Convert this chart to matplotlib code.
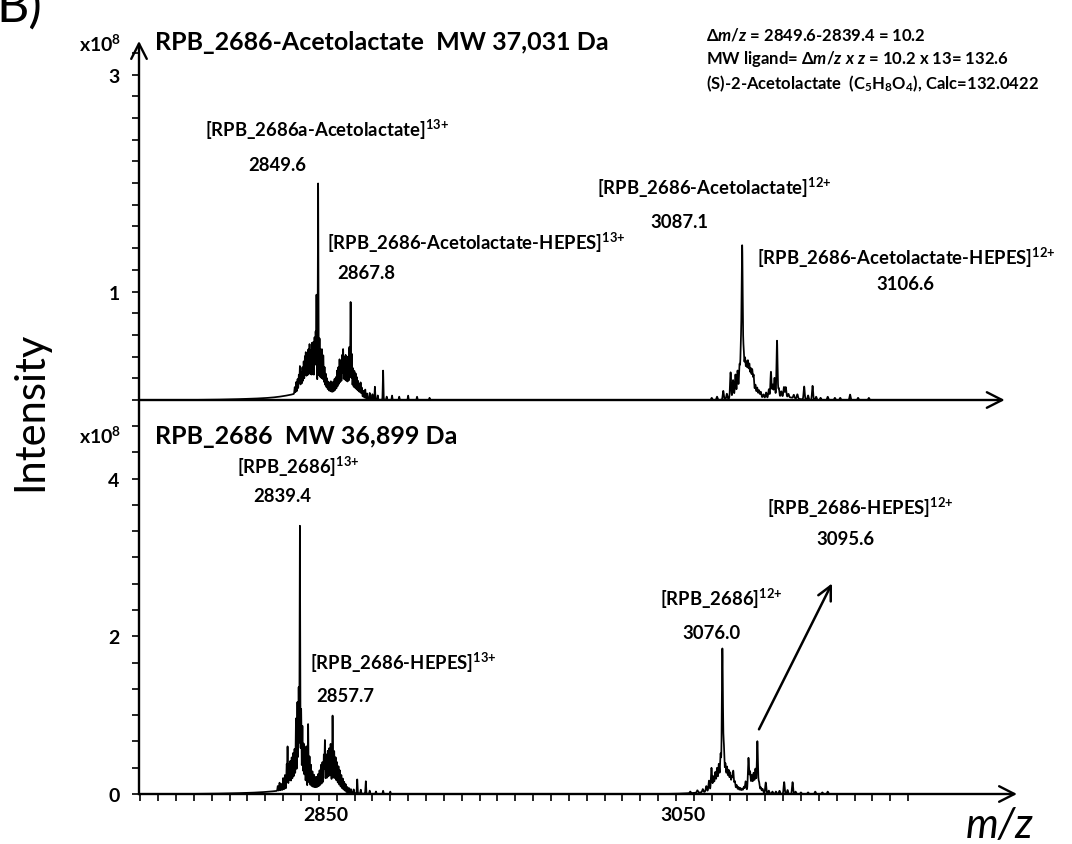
import numpy as np
import matplotlib
matplotlib.use("Agg")
import matplotlib.pyplot as plt
from matplotlib.ticker import FixedLocator, NullFormatter
from matplotlib.transforms import ScaledTranslation

plt.rcParams['font.family'] = ['Lato', 'DejaVu Sans']
plt.rcParams['font.weight'] = 'bold'
plt.rcParams['mathtext.fontset'] = 'custom'
plt.rcParams['mathtext.rm'] = 'Lato:bold'
plt.rcParams['mathtext.it'] = 'Lato:bold:italic'
plt.rcParams['mathtext.bf'] = 'Lato:bold'
plt.rcParams['mathtext.default'] = 'rm'

# ======================= spectra (intensity in units of 1e8) =======================
# Upper spectrum: RPB_2686 with acetolactate
# broad underlying envelopes: centre, height, width
top_base_mz = [2835.0, 2845.0, 2844.0, 2852.0, 2864.0, 2871.0, 3090.0, 3110.0, 3088.0]
top_base_int = [0.02, 0.05, 0.10, 0.06, 0.10, 0.05, 0.05, 0.03, 0.05]
top_base_wid = [22.0, 10.0, 3.0, 2.5, 3.0, 3.0, 6.0, 6.0, 2.5]
# 13+ charge-state cluster (dense, unresolved lines)
top_13_mz = [2836.5, 2837.3, 2838.1, 2838.8, 2839.4, 2840.1, 2840.8, 2841.5, 2842.2, 2842.7,
             2843.4, 2844.1, 2844.8, 2845.5, 2846.2, 2846.9, 2847.6, 2848.2, 2848.7, 2849.6,
             2850.4, 2851.1, 2851.8, 2852.5, 2853.2, 2853.9, 2854.6, 2855.3, 2856.0, 2856.7,
             2857.4, 2858.1, 2858.8, 2859.5, 2860.2, 2860.9, 2861.6, 2862.3, 2863.0, 2863.6,
             2864.3, 2865.0, 2865.7, 2866.4, 2867.1, 2867.8, 2868.5, 2869.2, 2869.9, 2870.6,
             2871.3, 2872.0, 2872.7, 2873.4, 2874.1, 2875.0, 2876.0, 2877.0, 2878.5, 2880.0,
             2881.4, 2883.0, 2886.0, 2888.0, 2891.0, 2895.0, 2900.0, 2905.0, 2912.0]
top_13_int = [0.06, 0.10, 0.12, 0.15, 0.22, 0.15, 0.18, 0.22, 0.25, 0.28,
              0.22, 0.30, 0.35, 0.30, 0.38, 0.40, 0.45, 0.50, 0.85, 1.88,
              0.45, 0.35, 0.35, 0.30, 0.20, 0.15, 0.12, 0.10, 0.10, 0.12,
              0.10, 0.12, 0.14, 0.15, 0.20, 0.22, 0.28, 0.25, 0.30, 0.35,
              0.28, 0.30, 0.25, 0.30, 0.40, 0.82, 0.35, 0.22, 0.20, 0.18,
              0.15, 0.12, 0.10, 0.12, 0.08, 0.06, 0.08, 0.05, 0.06, 0.05,
              0.12, 0.04, 0.27, 0.03, 0.04, 0.03, 0.04, 0.03, 0.02]
# 12+ charge-state cluster (better resolved)
top_12_mz = [3070.0, 3073.0, 3076.5, 3078.5, 3080.6, 3082.0, 3083.3, 3084.5, 3085.6, 3086.4,
             3087.1, 3087.9, 3088.7, 3089.5, 3090.3, 3091.1, 3091.9, 3092.7, 3093.5, 3094.5,
             3095.5, 3096.5, 3097.5, 3099.0, 3100.5, 3102.0, 3103.2, 3104.2, 3105.2, 3106.6,
             3107.6, 3109.0, 3110.5, 3111.5, 3113.0, 3116.0, 3118.0, 3121.8, 3124.0, 3126.5,
             3128.5, 3131.0, 3135.0, 3139.0, 3142.0, 3147.5, 3152.0, 3158.0]
top_12_int = [0.02, 0.03, 0.08, 0.05, 0.24, 0.16, 0.20, 0.22, 0.25, 0.40,
              1.30, 0.35, 0.28, 0.25, 0.27, 0.25, 0.22, 0.22, 0.18, 0.10,
              0.08, 0.06, 0.05, 0.03, 0.05, 0.08, 0.24, 0.12, 0.18, 0.52,
              0.08, 0.05, 0.09, 0.09, 0.03, 0.03, 0.04, 0.12, 0.04, 0.13,
              0.03, 0.02, 0.03, 0.02, 0.02, 0.05, 0.02, 0.02]

# Lower spectrum: apo RPB_2686
bot_base_mz = [2830.0, 2843.0, 2838.0, 2857.0, 3076.0, 3093.0, 3075.0]
bot_base_int = [0.02, 0.05, 0.15, 0.15, 0.08, 0.06, 0.03]
bot_base_wid = [22.0, 12.0, 3.0, 3.5, 4.0, 3.0, 12.0]
bot_13_mz = [2827.0, 2828.0, 2829.0, 2830.0, 2831.0, 2832.0, 2832.5, 2833.3, 2834.0, 2834.8,
             2835.6, 2836.4, 2837.2, 2838.0, 2838.7, 2839.4, 2840.1, 2840.8, 2841.5, 2842.2,
             2843.0, 2844.0, 2844.8, 2845.6, 2846.4, 2847.2, 2848.0, 2848.8, 2849.6, 2850.4,
             2851.2, 2852.0, 2852.8, 2853.4, 2854.2, 2855.0, 2855.8, 2856.6, 2857.7, 2858.6,
             2859.4, 2860.2, 2861.0, 2861.8, 2862.6, 2863.4, 2864.2, 2865.0, 2866.0, 2867.0,
             2868.0, 2869.5, 2871.5, 2873.5, 2876.3, 2878.5, 2882.0, 2886.0, 2890.0]
bot_13_int = [0.06, 0.10, 0.08, 0.15, 0.18, 0.30, 0.52, 0.28, 0.30, 0.32,
              0.35, 0.38, 0.75, 0.95, 1.15, 3.20, 0.90, 0.70, 0.50, 0.45,
              0.50, 0.80, 0.40, 0.30, 0.22, 0.18, 0.15, 0.15, 0.18, 0.22,
              0.28, 0.30, 0.38, 0.55, 0.35, 0.38, 0.40, 0.45, 0.82, 0.38,
              0.32, 0.28, 0.25, 0.22, 0.18, 0.15, 0.12, 0.10, 0.07, 0.06,
              0.05, 0.05, 0.18, 0.05, 0.16, 0.04, 0.03, 0.04, 0.03]
bot_12_mz = [3058.0, 3062.0, 3065.0, 3067.0, 3068.5, 3069.9, 3071.0, 3072.0, 3073.0, 3074.0,
             3075.0, 3076.0, 3076.8, 3077.7, 3078.6, 3079.5, 3080.4, 3081.3, 3082.1, 3083.0,
             3084.0, 3085.0, 3086.0, 3087.0, 3088.0, 3089.0, 3090.6, 3091.5, 3092.5, 3093.5,
             3094.5, 3095.6, 3096.5, 3097.5, 3098.5, 3100.3, 3102.0, 3104.0, 3106.0, 3108.0,
             3110.6, 3112.5, 3115.3, 3117.0, 3120.0, 3124.0, 3128.0, 3132.0, 3135.0]
bot_12_int = [0.02, 0.03, 0.04, 0.07, 0.13, 0.28, 0.16, 0.20, 0.24, 0.28,
              0.40, 1.72, 0.50, 0.28, 0.25, 0.22, 0.20, 0.16, 0.24, 0.12,
              0.08, 0.06, 0.05, 0.04, 0.06, 0.12, 0.40, 0.22, 0.17, 0.20,
              0.26, 0.62, 0.12, 0.06, 0.05, 0.14, 0.04, 0.03, 0.03, 0.04,
              0.15, 0.05, 0.15, 0.03, 0.02, 0.02, 0.03, 0.02, 0.03]

DENSE_WIDTH = 0.17      # line width (sigma, m/z) inside the unresolved 13+ clusters
RESOLVED_WIDTH = 0.30   # line width (sigma, m/z) inside the 12+ clusters

# Axis tick values
mz_tick_labels = [2850, 3050]
top_y_labels = [1, 3]
bot_y_labels = [0, 2, 4]

# Peak annotations: (text, m/z, intensity, alignment)
top_notes = [
    (r"[RPB_2686a-Acetolactate]$^{13{+}}$", 2786.1, 2.50, 'left'),
    ("2849.6", 2827.0, 2.175, 'center'),
    (r"[RPB_2686-Acetolactate-HEPES]$^{13{+}}$", 2854.5, 1.456, 'left'),
    ("2867.8", 2876.3, 1.18, 'center'),
    (r"[RPB_2686-Acetolactate]$^{12{+}}$", 3005.7, 1.963, 'left'),
    ("3087.1", 3052.2, 1.65, 'center'),
    (r"[RPB_2686-Acetolactate-HEPES]$^{12{+}}$", 3095.4, 1.318, 'left'),
    ("3106.6", 3178.3, 1.078, 'center'),
]
bot_notes = [
    (r"[RPB_2686]$^{13{+}}$", 2804.1, 4.165, 'left'),
    ("2839.4", 2829.8, 3.784, 'center'),
    (r"[RPB_2686-HEPES]$^{13{+}}$", 2845.0, 1.676, 'left'),
    ("2857.7", 2864.6, 1.244, 'center'),
    (r"[RPB_2686]$^{12{+}}$", 3041.0, 2.48, 'left'),
    ("3076.0", 3070.2, 2.05, 'center'),
    (r"[RPB_2686-HEPES]$^{12{+}}$", 3101.0, 3.644, 'left'),
    ("3095.6", 3145.2, 3.238, 'center'),
]

mz = np.arange(2750, 3183, 0.04)


def add_lines(y, centres, heights, widths):
    widths = np.broadcast_to(widths, (len(centres),))
    for c, h, w in zip(centres, heights, widths):
        y += h * np.exp(-0.5 * ((mz - c) / w) ** 2)
    return y


top_y = np.zeros_like(mz)
add_lines(top_y, top_base_mz, top_base_int, top_base_wid)
add_lines(top_y, top_13_mz, top_13_int, DENSE_WIDTH)
add_lines(top_y, top_12_mz, top_12_int, RESOLVED_WIDTH)

bot_y = np.zeros_like(mz)
add_lines(bot_y, bot_base_mz, bot_base_int, bot_base_wid)
add_lines(bot_y, bot_13_mz, bot_13_int, DENSE_WIDTH)
add_lines(bot_y, bot_12_mz, bot_12_int, RESOLVED_WIDTH)

# ======================= figure =======================
W, H = 1072, 845
fig = plt.figure(figsize=(W / 100, H / 100), dpi=100)


def fx(px):
    return px / W


def fy(py):
    return 1 - py / H


x0, x1 = 139, 1017
ax_top = fig.add_axes([fx(x0), fy(401), fx(x1) - fx(x0), fy(42) - fy(401)])
ax_bot = fig.add_axes([fx(x0), fy(795), fx(x1) - fx(x0), fy(403) - fy(795)])

for ax in (ax_top, ax_bot):
    ax.set_xlim(2749.3, 3241)
    for s in ax.spines.values():
        s.set_visible(False)
    ax.patch.set_alpha(0)

ax_top.set_ylim(0, 3.31)
ax_bot.set_ylim(0, 4.97)

ax_top.plot(mz, top_y, color='black', lw=1.25)
ax_bot.plot(mz, bot_y, color='black', lw=1.25)

# axis lines with arrow heads
arrow = dict(arrowstyle='->,head_length=0.55,head_width=0.28', lw=1.7,
             color='black', shrinkA=0, shrinkB=0, mutation_scale=20)
ax_top.annotate('', xy=(0, 1), xytext=(0, 0), xycoords='axes fraction', arrowprops=arrow)
ax_top.annotate('', xy=(0.986, 0), xytext=(0, 0), xycoords='axes fraction', arrowprops=arrow)
ax_bot.annotate('', xy=(1, 0), xytext=(0, 0), xycoords='axes fraction', arrowprops=arrow)
ax_bot.plot([0, 0], [0, 1], transform=ax_bot.transAxes, color='black', lw=1.7,
            clip_on=False)

# ticks
ax_top.xaxis.set_major_locator(FixedLocator([]))
ax_top.yaxis.set_major_locator(FixedLocator(top_y_labels))
ax_top.yaxis.set_minor_locator(FixedLocator(np.arange(0, 3.21, 0.2)))
ax_top.yaxis.set_minor_formatter(NullFormatter())

ax_bot.xaxis.set_major_locator(FixedLocator(mz_tick_labels))
ax_bot.xaxis.set_minor_locator(FixedLocator(np.arange(2750, 3181, 10)))
ax_bot.xaxis.set_minor_formatter(NullFormatter())
ax_bot.yaxis.set_major_locator(FixedLocator(bot_y_labels))
ax_bot.yaxis.set_minor_locator(FixedLocator(np.arange(0, 4.9, 1 / 3)))
ax_bot.yaxis.set_minor_formatter(NullFormatter())

for ax in (ax_top, ax_bot):
    ax.tick_params(axis='both', which='both', direction='out', length=5, width=1.2,
                   labelsize=14)
    ax.tick_params(axis='y', pad=9)
ax_top.tick_params(axis='x', which='both', length=0)
ax_bot.tick_params(axis='x', pad=4)

shift = ScaledTranslation(0.07, 0, fig.dpi_scale_trans)
for lab in ax_bot.get_xticklabels():
    lab.set_transform(lab.get_transform() + shift)
for lab in ax_top.get_yticklabels() + ax_bot.get_yticklabels() + ax_bot.get_xticklabels():
    lab.set_fontweight('bold')

# intensity scale factors
fig.text(fx(79), fy(44), r"x10$^{8}$", fontsize=14, va='center', ha='left')
fig.text(fx(79), fy(436), r"x10$^{8}$", fontsize=14, va='center', ha='left')

# panel titles
ax_top.text(2758.1, 3.31, "RPB_2686-Acetolactate  MW 37,031 Da", fontsize=18,
            va='center', ha='left')
ax_bot.text(2758.1, 4.546, "RPB_2686  MW 36,899 Da", fontsize=18,
            va='center', ha='left')

for ax, notes in ((ax_top, top_notes), (ax_bot, bot_notes)):
    for txt, x, y, ha in notes:
        ax.text(x, y, txt, fontsize=13.3, ha=ha, va='center')

info = [r"Δ$\mathit{m/z}$ = 2849.6-2839.4 = 10.2",
        r"MW ligand= Δ$\mathit{m/z}$ $\mathit{x}$ $\mathit{z}$ = 10.2 x 13= 132.6",
        r"(S)-2-Acetolactate  (C$_{5}$H$_{8}$O$_{4}$), Calc=132.0422"]
for i, line in enumerate(info):
    fig.text(fx(706), fy(35 + 24.5 * i), line, fontsize=12.0, va='center', ha='left')

# pointer to the HEPES 12+ adduct of the apo protein
ax_bot.annotate('', xy=(3137.4, 2.67), xytext=(3096.5, 0.82),
                arrowprops=dict(arrowstyle='->,head_length=0.5,head_width=0.25',
                                lw=1.8, color='black', shrinkA=0, shrinkB=0,
                                mutation_scale=20))

# axis titles
fig.text(fx(30), fy(411), "Intensity", rotation=90, fontsize=30, fontweight='normal',
         va='center', ha='center')
fig.text(fx(1000), fy(826), "m/z", fontsize=30, fontweight='normal', style='italic',
         va='center', ha='center')

# panel letter
fig.text(fx(-4), fy(22), "B)", fontsize=36, fontweight='normal', va='baseline', ha='left')

fig.savefig("out.png", dpi=100)
